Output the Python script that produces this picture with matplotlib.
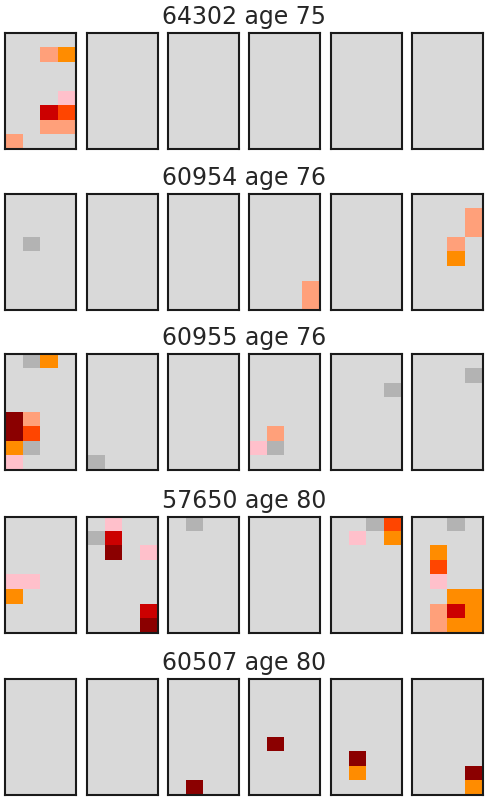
import numpy as np
import matplotlib
matplotlib.use("Agg")
import matplotlib.pyplot as plt
from matplotlib.colors import ListedColormap, BoundaryNorm

# patients shown, one row of six panels each
patient_ids = ["64302", "60954", "60955", "57650", "60507"]
patient_ages = [75, 76, 76, 80, 80]

# cell categories, in colour order
codes = ["bg", "g", "p", "s", "o", "r", "R", "d"]
code_colors = ["#d9d9d9", "#b3b3b3", "#ffc0cb", "#ffa07a",
               "#ff8c00", "#ff4500", "#cc0000", "#8b0000"]

# filled cells: (panel, row, col, code), rows counted from the top
cells_64302 = [(0, 1, 2, "s"), (0, 1, 3, "o"), (0, 4, 3, "p"), (0, 5, 2, "R"),
               (0, 5, 3, "r"), (0, 6, 2, "s"), (0, 6, 3, "s"), (0, 7, 0, "s")]
cells_60954 = [(0, 3, 1, "g"),
               (3, 6, 3, "s"), (3, 7, 3, "s"),
               (5, 1, 3, "s"), (5, 2, 3, "s"), (5, 3, 2, "s"), (5, 4, 2, "o")]
cells_60955 = [(0, 0, 1, "g"), (0, 0, 2, "o"), (0, 4, 0, "d"), (0, 5, 0, "d"),
               (0, 4, 1, "s"), (0, 5, 1, "r"), (0, 6, 0, "o"), (0, 6, 1, "g"),
               (0, 7, 0, "p"),
               (1, 7, 0, "g"),
               (3, 5, 1, "s"), (3, 6, 0, "p"), (3, 6, 1, "g"),
               (4, 2, 3, "g"),
               (5, 1, 3, "g")]
cells_57650 = [(0, 4, 0, "p"), (0, 4, 1, "p"), (0, 5, 0, "o"),
               (1, 0, 1, "p"), (1, 1, 0, "g"), (1, 1, 1, "R"), (1, 2, 1, "d"),
               (1, 2, 3, "p"), (1, 6, 3, "R"), (1, 7, 3, "d"),
               (2, 0, 1, "g"),
               (4, 0, 2, "g"), (4, 0, 3, "r"), (4, 1, 1, "p"), (4, 1, 3, "o"),
               (5, 0, 2, "g"), (5, 2, 1, "o"), (5, 3, 1, "r"), (5, 4, 1, "p"),
               (5, 5, 2, "o"), (5, 5, 3, "o"), (5, 6, 1, "s"), (5, 6, 2, "R"),
               (5, 6, 3, "o"), (5, 7, 1, "s"), (5, 7, 2, "o"), (5, 7, 3, "o")]
cells_60507 = [(2, 7, 1, "d"),
               (3, 4, 1, "d"),
               (4, 5, 1, "d"), (4, 6, 1, "o"),
               (5, 6, 3, "d"), (5, 7, 3, "o")]
all_cells = [cells_64302, cells_60954, cells_60955, cells_57650, cells_60507]

n_panels, n_rows, n_cols = 6, 8, 4

cmap = ListedColormap(code_colors)
norm = BoundaryNorm(np.arange(len(codes) + 1) - 0.5, cmap.N)

W, H = 488, 800
fig = plt.figure(figsize=(W / 100, H / 100), dpi=100)

panel_w, panel_h = 71, 116
lefts = [5, 86.7, 168, 249.3, 331, 412.3]
tops = [33, 193.5, 354, 517.3, 679.3]

for p, (pid, age, cells) in enumerate(zip(patient_ids, patient_ages, all_cells)):
    grids = np.zeros((n_panels, n_rows, n_cols), dtype=int)
    for panel, r, c, code in cells:
        grids[panel, r, c] = codes.index(code)

    for k in range(n_panels):
        ax = fig.add_axes([lefts[k] / W, 1 - (tops[p] + panel_h) / H,
                           panel_w / W, panel_h / H])
        ax.imshow(grids[k], cmap=cmap, norm=norm, aspect="auto",
                  interpolation="nearest")
        ax.set_xticks([])
        ax.set_yticks([])
        for s in ax.spines.values():
            s.set_linewidth(1.5)
            s.set_color("#1a1a1a")

    fig.text(0.5, 1 - (tops[p] - 9) / H, f"{pid} age {age}",
             ha="center", va="baseline", fontsize=17,
             family=["DejaVu Sans"], color="#262626")

fig.savefig("out.png", dpi=100)
